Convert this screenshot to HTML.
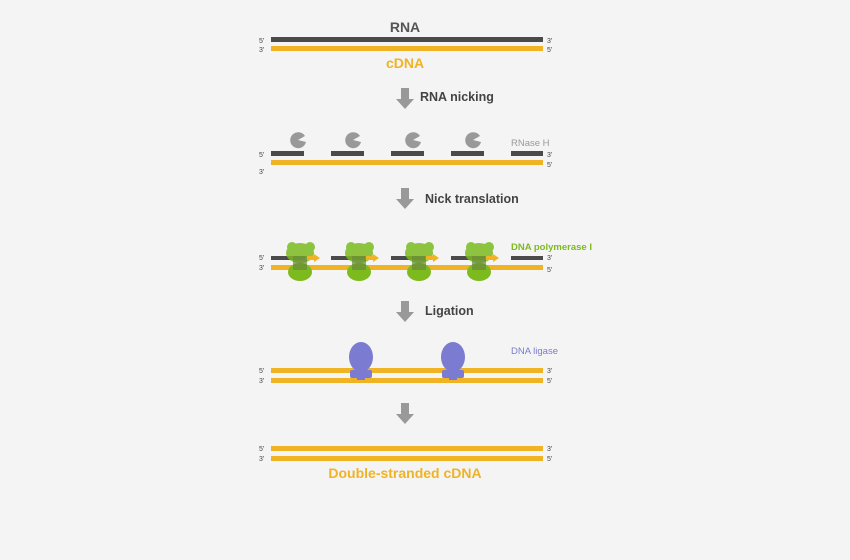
<!DOCTYPE html>
<html><head><meta charset="utf-8"><style>
html,body{margin:0;padding:0;background:#f4f4f4}
svg{display:block;font-family:"Liberation Sans",sans-serif}
.p{font-size:7px;fill:#444}
</style></head><body>
<svg width="850" height="560" viewBox="0 0 850 560">
<rect width="850" height="560" fill="#f4f4f4"/>
<g>
<text x="405" y="32" text-anchor="middle" font-size="14" font-weight="bold" fill="#555">RNA</text>
<rect x="271" y="37" width="272" height="5" fill="#4a4a4a"/>
<rect x="271" y="46" width="272" height="5" fill="#f0b323"/>
<text class="p" x="259" y="43">5'</text><text class="p" x="259" y="52">3'</text>
<text class="p" x="547" y="43">3'</text><text class="p" x="547" y="52">5'</text>
<text x="405" y="68" text-anchor="middle" font-size="14" font-weight="bold" fill="#f0b323">cDNA</text>
</g>
<g fill="#999">
<path d="M401,88h8v11h5l-9,10l-9,-10h5z"/>
<path d="M401,188h8v11h5l-9,10l-9,-10h5z"/>
<path d="M401,301h8v11h5l-9,10l-9,-10h5z"/>
<path d="M401,403h8v11h5l-9,10l-9,-10h5z"/>
</g>
<text x="420" y="101" font-size="12.5" font-weight="bold" fill="#444">RNA nicking</text>
<text x="425" y="203" font-size="12.5" font-weight="bold" fill="#444">Nick translation</text>
<text x="425" y="315" font-size="12.5" font-weight="bold" fill="#444">Ligation</text>
<g>
<g fill="#999">
<path id="pac" d="M311,142 A8,8 0 1 1 310,136 L303,140 Z" transform="translate(-5,0)"/>
<use href="#pac" x="55"/><use href="#pac" x="115"/><use href="#pac" x="175"/>
</g>
<g fill="#4a4a4a">
<rect x="271" y="151" width="33" height="5"/><rect x="331" y="151" width="33" height="5"/><rect x="391" y="151" width="33" height="5"/><rect x="451" y="151" width="33" height="5"/><rect x="511" y="151" width="32" height="5"/>
</g>
<rect x="271" y="160" width="272" height="5" fill="#f0b323"/>
<text class="p" x="259" y="157">5'</text><text class="p" x="259" y="174">3'</text>
<text class="p" x="547" y="157">3'</text><text class="p" x="547" y="167">5'</text>
<text x="511" y="146" font-size="9.5" fill="#999">RNase H</text>
</g>
<g>
<rect x="271" y="265" width="272" height="5" fill="#f0b323"/>
<g fill="#4a4a4a">
<rect x="271" y="256" width="34" height="4"/><rect x="331" y="256" width="34" height="4"/><rect x="391" y="256" width="34" height="4"/><rect x="451" y="256" width="34" height="4"/><rect x="511" y="256" width="32" height="4"/>
</g>
<g id="pol">
<ellipse cx="300" cy="272" rx="12" ry="9" fill="#7dba1e"/>
<ellipse cx="300" cy="253" rx="14" ry="10" fill="#7dba1e" opacity="0.85"/>
<circle cx="292" cy="247" r="5" fill="#8bc53f"/><circle cx="310" cy="247" r="5" fill="#8bc53f"/>
<rect x="293" y="256" width="14" height="14" fill="#6a8a3a" opacity="0.7"/>
<rect x="307" y="256" width="8" height="4" fill="#f0b323"/><path d="M314,254l6,4l-6,4z" fill="#f0b323"/>
</g>
<use href="#pol" x="59"/><use href="#pol" x="119"/><use href="#pol" x="179"/>
<text class="p" x="259" y="260">5'</text><text class="p" x="259" y="270">3'</text>
<text class="p" x="547" y="260">3'</text><text class="p" x="547" y="272">5'</text>
<text x="511" y="250" font-size="9.5" font-weight="bold" fill="#7dba1e">DNA polymerase I</text>
</g>
<g>
<rect x="271" y="368" width="272" height="5" fill="#f0b323"/>
<rect x="271" y="378" width="272" height="5" fill="#f0b323"/>
<g fill="#7b7bd1">
<ellipse cx="361" cy="357" rx="12" ry="15"/><rect x="357" y="366" width="8" height="14"/><rect x="350" y="370" width="22" height="8" rx="2"/>
<ellipse cx="453" cy="357" rx="12" ry="15"/><rect x="449" y="366" width="8" height="14"/><rect x="442" y="370" width="22" height="8" rx="2"/>
</g>
<text class="p" x="259" y="373">5'</text><text class="p" x="259" y="383">3'</text>
<text class="p" x="547" y="373">3'</text><text class="p" x="547" y="383">5'</text>
<text x="511" y="354" font-size="9.5" fill="#7b7bd1">DNA ligase</text>
</g>
<g>
<rect x="271" y="446" width="272" height="5" fill="#f0b323"/>
<rect x="271" y="456" width="272" height="5" fill="#f0b323"/>
<text class="p" x="259" y="451">5'</text><text class="p" x="259" y="461">3'</text>
<text class="p" x="547" y="451">3'</text><text class="p" x="547" y="461">5'</text>
<text x="405" y="478" text-anchor="middle" font-size="14" font-weight="bold" fill="#f0b323">Double-stranded cDNA</text>
</g>
</svg>
</body></html>
